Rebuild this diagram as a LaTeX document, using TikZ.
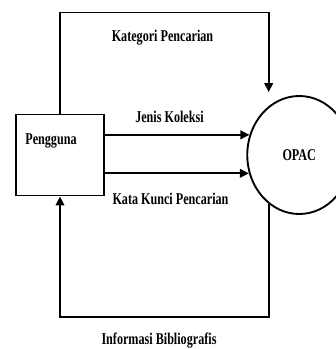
\documentclass[tikz,border=0pt]{standalone}
\usepackage{fontspec}
\newfontfamily\dfdfont[FakeStretch=0.74]{Liberation Serif}
\usetikzlibrary{arrows.meta,positioning,shapes.geometric}

\begin{document}
\begin{tikzpicture}[
  entity/.style={rectangle,draw=black,minimum width=2.64cm,minimum height=2.43cm,line width=1.7pt},
  process/.style={ellipse,draw=black,minimum width=3.12cm,minimum height=3.54cm,inner sep=0pt,line width=1.6pt,font=\dfdfont\bfseries\fontsize{14}{16}\selectfont},
  lbl/.style={anchor=base,inner sep=0pt,font=\dfdfont\bfseries\fontsize{14}{16}\selectfont},
  flow/.style={-{Triangle[length=0.27cm,width=0.26cm]},line width=1.6pt}]
\useasboundingbox (0,0) rectangle (10.08,10.47);
\clip (0,0) rectangle (10.08,10.47);
\node[entity](user) at (1.8,5.82){};
\node[lbl](usertxt) at (1.53,6.12){Pengguna};
\node[process,right=4.24cm of user](opac){OPAC};
\coordinate (ktop) at (0,10.095);
\coordinate (ibot) at (0,0.96);
\draw[flow,shorten >=0.42cm](user.north)|-(opac.122 |- ktop)--(opac.122);
\draw[flow](user.east |- opac.158)--(opac.158);
\draw[flow](user.east |- opac.200)--(opac.200);
\draw[flow](opac.238)|-(user.south |- ibot)--(user.south);
\node[lbl](katlbl) at (4.875,9.22){Kategori Pencarian};
\node[lbl](jenislbl) at (5.085,6.79){Jenis Koleksi};
\node[lbl](kunlbl) at (5.115,4.34){Kata Kunci Pencarian};
\node[lbl](infolbl) at (4.77,0.15){Informasi Bibliografis};
\end{tikzpicture}
\end{document}
